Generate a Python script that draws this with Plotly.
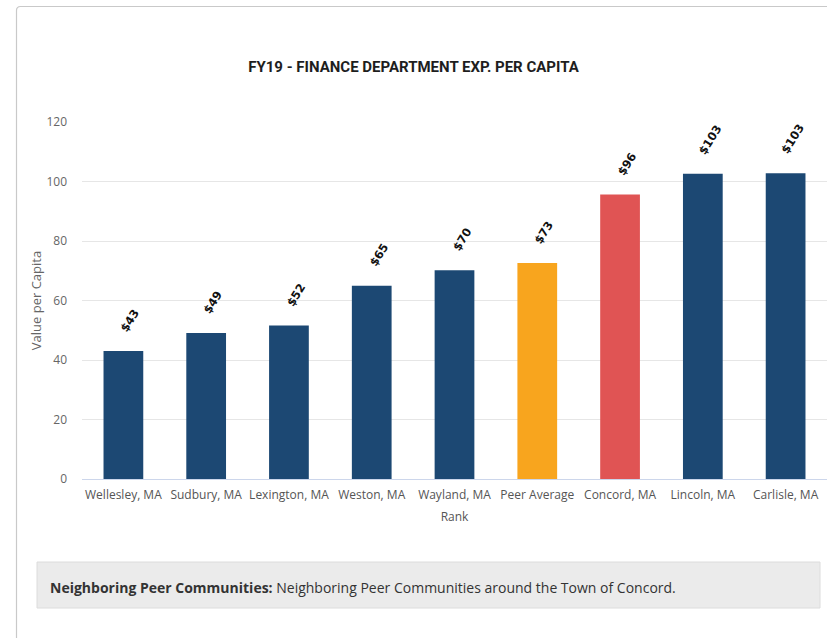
import plotly.graph_objects as go

# Finance department expenditure per capita, FY19
communities = ["Wellesley, MA", "Sudbury, MA", "Lexington, MA", "Weston, MA",
               "Wayland, MA", "Peer Average", "Concord, MA", "Lincoln, MA", "Carlisle, MA"]
per_capita = [43.0, 49.1, 51.6, 65.0, 70.2, 72.6, 95.6, 102.6, 102.8]
bar_colors = ["#1c4873", "#1c4873", "#1c4873", "#1c4873", "#1c4873",
              "#f8a51e", "#e05454", "#1c4873", "#1c4873"]
y_ticks = [0, 20, 40, 60, 80, 100, 120]

W, H = 827, 638
ML, MR, MT, MB = 82, 0, 122, 159
pw, ph = W - ML - MR, H - MT - MB


def px_x(x):
    return (x - ML) / pw


def px_y(y):
    return (H - MB - y) / ph


fig = go.Figure()
fig.add_trace(go.Bar(
    x=communities, y=per_capita, marker=dict(color=bar_colors, line=dict(width=0)),
    width=0.48, hoverinfo="x+y",
))

# rotated value labels above each bar
for name, v in zip(communities, per_capita):
    fig.add_annotation(
        x=name, y=v, xref="x", yref="y", text=f"${v:.0f}", showarrow=False,
        textangle=-58, xanchor="center", yanchor="bottom", xshift=7, yshift=14,
        font=dict(family="DejaVu Sans", size=11.5, color="#111111", weight="bold"),
    )

# card outline
r = 4
fig.add_shape(type="path", xref="paper", yref="paper",
              path=(f"M {px_x(16.5)},{px_y(645)} L {px_x(16.5)},{px_y(6.5 + r)} "
                    f"Q {px_x(16.5)},{px_y(6.5)} {px_x(16.5 + r)},{px_y(6.5)} "
                    f"L {px_x(835)},{px_y(6.5)}"),
              line=dict(color="#c9c9c9", width=1.2), layer="below")

# footnote box
fig.add_shape(type="rect", xref="paper", yref="paper",
              x0=px_x(37), x1=px_x(820), y0=px_y(608), y1=px_y(562),
              fillcolor="#ebebeb", line=dict(color="#dcdcdc", width=1), layer="below")
fig.add_annotation(
    xref="paper", yref="paper", x=px_x(48), y=px_y(587), xanchor="left", yanchor="middle",
    text="<b>Neighboring Peer Communities:</b> Neighboring Peer Communities around the Town of Concord.",
    showarrow=False, font=dict(family="Open Sans", size=14, color="#333333"),
)

fig.update_layout(
    width=W, height=H,
    margin=dict(l=ML, r=MR, t=MT, b=MB),
    paper_bgcolor="white", plot_bgcolor="white",
    showlegend=False, bargap=0.52,
    title=dict(
        text="FY19 - FINANCE DEPARTMENT EXP. PER CAPITA",
        x=0.5, xanchor="center", y=1 - 67 / H, yanchor="middle",
        font=dict(family="Roboto", size=15, color="#1e1e1e", weight="bold"),
    ),
    xaxis=dict(
        title=dict(text="Rank", font=dict(family="Open Sans", size=12, color="#555555"),
                   standoff=10),
        tickfont=dict(family="Open Sans", size=12, color="#555555"),
        showline=True, linecolor="#ccd6eb", linewidth=1, ticks="",
        ticklabelstandoff=5, showgrid=False, fixedrange=True,
    ),
    yaxis=dict(
        title=dict(text="Value per Capita", font=dict(family="Open Sans", size=13, color="#666666"),
                   standoff=1),
        range=[0, 120], tickvals=y_ticks,
        tickfont=dict(family="Open Sans", size=12, color="#666666"),
        gridcolor="#e6e6e6", gridwidth=1, zeroline=False, showline=False,
        ticklabelstandoff=14, fixedrange=True,
    ),
)

fig.write_html("out.html")
